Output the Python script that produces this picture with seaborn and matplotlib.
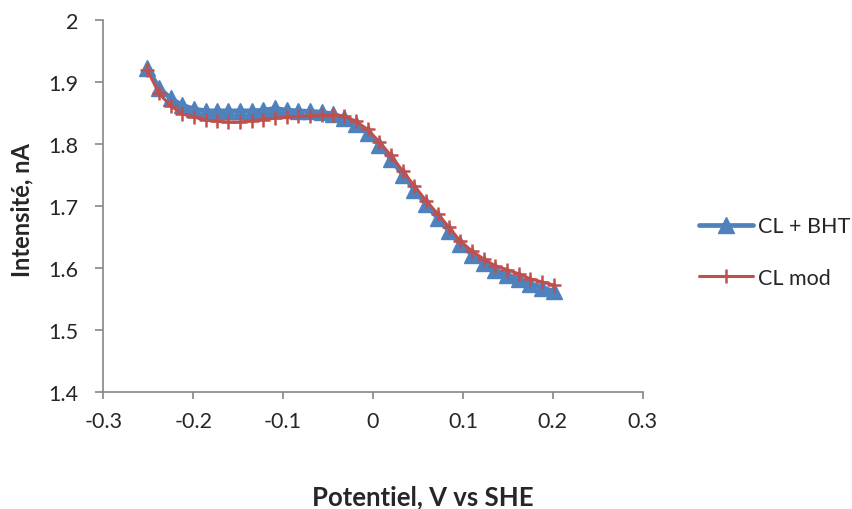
import matplotlib
matplotlib.use("Agg")
import matplotlib.pyplot as plt
import seaborn as sns
import pandas as pd

# ---- data ----
potential = [-0.251, -0.238, -0.225, -0.212, -0.199, -0.186, -0.174, -0.161, -0.148,
             -0.135, -0.122, -0.109, -0.096, -0.083, -0.070, -0.057, -0.045, -0.032,
             -0.019, -0.006, 0.007, 0.020, 0.033, 0.046, 0.059, 0.072, 0.084, 0.097,
             0.110, 0.123, 0.136, 0.149, 0.162, 0.175, 0.188, 0.201]

cl_bht = [1.922, 1.890, 1.873, 1.862, 1.856, 1.853, 1.853, 1.853, 1.853,
          1.853, 1.854, 1.857, 1.854, 1.853, 1.852, 1.851, 1.848, 1.842,
          1.832, 1.818, 1.798, 1.775, 1.750, 1.726, 1.702, 1.680, 1.660, 1.638,
          1.621, 1.607, 1.596, 1.588, 1.581, 1.574, 1.568, 1.562]

cl_mod = [1.919, 1.881, 1.861, 1.848, 1.843, 1.838, 1.836, 1.835, 1.835,
          1.837, 1.839, 1.841, 1.843, 1.844, 1.845, 1.846, 1.846, 1.845,
          1.836, 1.823, 1.803, 1.781, 1.756, 1.732, 1.708, 1.687, 1.666, 1.643,
          1.627, 1.614, 1.603, 1.597, 1.590, 1.582, 1.577, 1.572]

series_names = ["CL + BHT", "CL mod"]
x_ticks = [-0.3, -0.2, -0.1, 0.0, 0.1, 0.2, 0.3]
x_tick_labels = ["-0.3", "-0.2", "-0.1", "0", "0.1", "0.2", "0.3"]
y_ticks = [1.4, 1.5, 1.6, 1.7, 1.8, 1.9, 2.0]
y_tick_labels = ["1.4", "1.5", "1.6", "1.7", "1.8", "1.9", "2"]
x_title = "Potentiel, V vs SHE"
y_title = "Intensité, nA"

# ---- style ----
sns.set_theme(style="white")
plt.rcParams["font.family"] = ["Lato", "DejaVu Sans"]

BLUE = "#4F81BD"
RED = "#C0504D"
GRAY = "#868686"
TXT = "#262626"

fig = plt.figure(figsize=(8.53, 5.10), dpi=100)
ax = fig.add_axes([103.3 / 853, 1 - 392.7 / 510, (642.7 - 103.3) / 853, (392.7 - 20.7) / 510])

df_bht = pd.DataFrame({"x": potential, "y": cl_bht})
df_mod = pd.DataFrame({"x": potential, "y": cl_mod})

sns.lineplot(data=df_bht, x="x", y="y", ax=ax, color=BLUE, linewidth=3.4,
             marker="^", markersize=11.5, markeredgecolor=BLUE, markerfacecolor=BLUE,
             markeredgewidth=1, label=series_names[0], sort=False, zorder=2)
sns.lineplot(data=df_mod, x="x", y="y", ax=ax, color=RED, linewidth=2.2,
             marker="+", markersize=10.5, markeredgecolor=RED, markeredgewidth=1.8,
             label=series_names[1], sort=False, zorder=3)

ax.set_xlim(-0.3, 0.3)
ax.set_ylim(1.4, 2.0)
ax.set_xticks(x_ticks)
ax.set_xticklabels(x_tick_labels)
ax.set_yticks(y_ticks)
ax.set_yticklabels(y_tick_labels)

for side in ["top", "right"]:
    ax.spines[side].set_visible(False)
for side in ["left", "bottom"]:
    ax.spines[side].set_color(GRAY)
    ax.spines[side].set_linewidth(1.2)

ax.tick_params(axis="x", direction="out", length=5, width=1.2, color=GRAY,
               labelsize=15.5, labelcolor=TXT, pad=9, bottom=True)
ax.tick_params(axis="y", direction="out", length=6, width=1.2, color=GRAY,
               labelsize=15.5, labelcolor=TXT, pad=12, left=True)
ax.grid(False)

ax.set_xlabel(x_title, fontsize=18.5, fontweight="bold", color=TXT, va="center")
ax.xaxis.set_label_coords((423 - 103.3) / 539.4, (392.7 - 497) / 372)
ax.set_ylabel(y_title, fontsize=17, fontweight="bold", color=TXT, va="center")
ax.yaxis.set_label_coords((22 - 103.3) / 539.4, 0.49)

ax.get_legend().remove()
handles, labels = ax.get_legend_handles_labels()
fig.legend(handles, labels, loc="center left",
           bbox_to_anchor=(699 / 853, 1 - 253 / 510), frameon=False,
           fontsize=15.5, handlelength=2.5, handletextpad=0.25,
           labelspacing=1.45, borderpad=0, borderaxespad=0, labelcolor=TXT)

fig.savefig("out.png", dpi=100, facecolor="white")
